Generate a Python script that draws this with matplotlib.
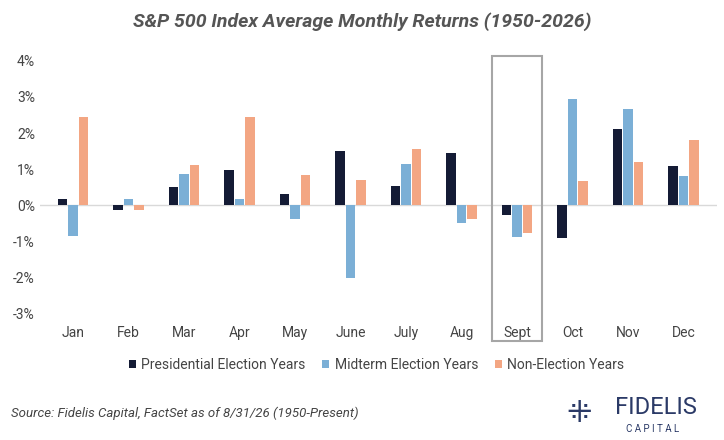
import matplotlib
matplotlib.use("Agg")
import matplotlib.pyplot as plt
import numpy as np
from matplotlib.patches import Rectangle

months = ["Jan","Feb","Mar","Apr","May","June","July","Aug","Sept","Oct","Nov","Dec"]
pres = [0.19,-0.13,0.52,0.98,0.33,1.50,0.54,1.44,-0.27,-0.90,2.12,1.09]
mid = [-0.84,0.19,0.87,0.19,-0.38,-2.01,1.14,-0.49,-0.87,2.94,2.67,0.82]
non = [2.45,-0.12,1.12,2.45,0.84,0.71,1.55,-0.38,-0.76,0.68,1.20,1.80]
yticks = [-3,-2,-1,0,1,2,3,4]

plt.rcParams['font.family'] = ['Roboto','DejaVu Sans']
fig = plt.figure(figsize=(7.24,4.4), dpi=100)
ax = fig.add_axes([0.055,0.27,0.935,0.60])
x = np.arange(len(months))
w = 0.17
ax.bar(x-w-0.02, pres, w, color="#141b35", label="Presidential Election Years")
ax.bar(x, mid, w, color="#7bafd6", label="Midterm Election Years")
ax.bar(x+w+0.02, non, w, color="#f3a683", label="Non-Election Years")
ax.set_xlim(-0.6, 11.6)
ax.set_ylim(-3.2, 4.1)
ax.set_yticks(yticks)
ax.set_yticklabels([f"{v}%" for v in yticks], fontsize=10, color="#444")
ax.set_xticks(x)
ax.set_xticklabels(months, fontsize=10, color="#444")
ax.tick_params(length=0)
ax.axhline(0, color="#d9d9d9", lw=1, zorder=0)
for s in ax.spines.values():
    s.set_visible(False)
ax.add_patch(Rectangle((7.55, -3.75), 0.9, 7.88, fill=False, ec="#a6a6a6", lw=1.5, clip_on=False))
fig.legend(loc="center", bbox_to_anchor=(0.52, 0.17), ncol=3, frameon=False, fontsize=10,
           handlelength=0.5, handleheight=0.5, columnspacing=1.2, handletextpad=0.4, labelcolor="#444")
fig.text(0.5, 0.95, "S&P 500 Index Average Monthly Returns (1950-2026)", ha="center", va="center",
         fontsize=14, fontweight="bold", style="italic", color="#555")
fig.text(0.015, 0.06, "Source: Fidelis Capital, FactSet as of 8/31/26 (1950-Present)", fontsize=9.5,
         style="italic", color="#444", va="center")
fig.text(0.85, 0.075, "FIDELIS", fontsize=17, color="#2b3a67", va="center")
fig.text(0.865, 0.025, "C A P I T A L", fontsize=7, color="#2b3a67", va="center")
fig.text(0.80, 0.06, "⁜", fontsize=22, color="#2b3a67", va="center", ha="center")
fig.savefig("out.png", dpi=100)
